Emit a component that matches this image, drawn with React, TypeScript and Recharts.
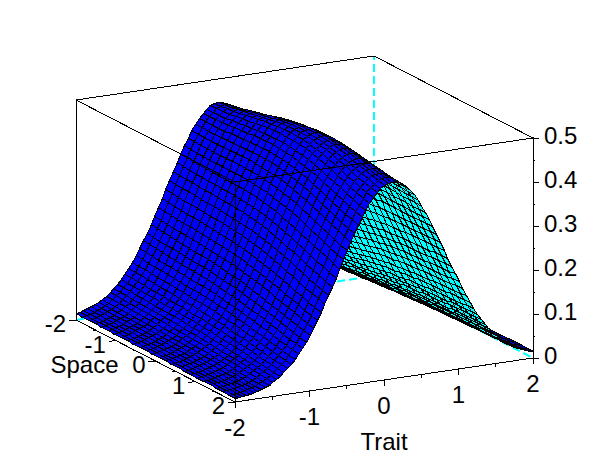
import { Scatter, ScatterChart, XAxis, YAxis } from "recharts";

/* Values. The mesh is 80 x 25 cells and is built from these
   lists: the height is spaceGain * traitProfile + space * traitDrift, where
   traitProfile is the mid section of the ridge and traitDrift is how much each
   trait column changes per unit of space (the ridge leans towards +trait). */
const traitSteps = [
  -2, -1.95, -1.9, -1.85, -1.8, -1.75, -1.7, -1.65, -1.6, -1.55, -1.5, -1.45, -1.4,
  -1.35, -1.3, -1.25, -1.2, -1.15, -1.1, -1.05, -1, -0.95, -0.9, -0.85, -0.8, -0.75,
  -0.7, -0.65, -0.6, -0.55, -0.5, -0.45, -0.4, -0.35, -0.3, -0.25, -0.2, -0.15, -0.1,
  -0.05, 0, 0.05, 0.1, 0.15, 0.2, 0.25, 0.3, 0.35, 0.4, 0.45, 0.5, 0.55, 0.6, 0.65,
  0.7, 0.75, 0.8, 0.85, 0.9, 0.95, 1, 1.05, 1.1, 1.15, 1.2, 1.25, 1.3, 1.35, 1.4,
  1.45, 1.5, 1.55, 1.6, 1.65, 1.7, 1.75, 1.8, 1.85, 1.9, 1.95, 2,
];
const spaceSteps = [
  -2, -1.84, -1.68, -1.52, -1.36, -1.2, -1.04, -0.88, -0.72, -0.56, -0.4, -0.24, -0.08,
  0.08, 0.24, 0.4, 0.56, 0.72, 0.88, 1.04, 1.2, 1.36, 1.52, 1.68, 1.84, 2,
];
const traitProfile = [
  0.012, 0.0135, 0.015, 0.0175, 0.02, 0.023, 0.026, 0.03, 0.035, 0.041, 0.047, 0.054,
  0.062, 0.071, 0.081, 0.092, 0.104, 0.117, 0.131, 0.146, 0.162, 0.179, 0.197, 0.215,
  0.234, 0.253, 0.272, 0.291, 0.31, 0.329, 0.347, 0.364, 0.38, 0.395, 0.409, 0.42,
  0.431, 0.439, 0.445, 0.448, 0.45, 0.449, 0.446, 0.441, 0.434, 0.425, 0.414, 0.401,
  0.387, 0.371, 0.354, 0.336, 0.318, 0.299, 0.28, 0.26, 0.241, 0.222, 0.204, 0.186,
  0.169, 0.153, 0.137, 0.123, 0.109, 0.097, 0.086, 0.075, 0.066, 0.058, 0.05, 0.043,
  0.037, 0.032, 0.028, 0.024, 0.021, 0.018, 0.016, 0.014, 0.013,
];
const traitDrift = [
  -0.0016, -0.0019, -0.0022, -0.0026, -0.0031, -0.0036, -0.0041, -0.0047, -0.0054,
  -0.0062, -0.007, -0.0078, -0.0087, -0.0096, -0.0106, -0.0116, -0.0126, -0.0136,
  -0.0146, -0.0155, -0.0164, -0.0172, -0.0179, -0.0185, -0.0189, -0.0192, -0.0193,
  -0.0192, -0.0189, -0.0184, -0.0177, -0.0167, -0.0156, -0.0142, -0.0127, -0.0109,
  -0.009, -0.007, -0.0049, -0.0027, -0.0005, 0.0018, 0.004, 0.0062, 0.0082, 0.0102,
  0.012, 0.0136, 0.0151, 0.0163, 0.0173, 0.0182, 0.0187, 0.0191, 0.0193, 0.0193,
  0.019, 0.0187, 0.0181, 0.0175, 0.0167, 0.0159, 0.0149, 0.014, 0.013, 0.012, 0.011,
  0.01, 0.0091, 0.0081, 0.0073, 0.0065, 0.0057, 0.005, 0.0044, 0.0038, 0.0033, 0.0028,
  0.0024, 0.002, 0.0017,
];
const spaceGain = [
  0.985, 0.991, 0.997, 1.004, 1.012, 1.02, 1.029, 1.038, 1.047, 1.055, 1.061, 1.066,
  1.069, 1.071, 1.071, 1.068, 1.063, 1.058, 1.05, 1.041, 1.031, 1.021, 1.011, 1.002,
  0.994, 0.987,
];

const traitTicks = [-2, -1, 0, 1, 2];
const traitMinorTicks = [-1.5, -0.5, 0.5, 1.5];
const spaceTicks = [-2, -1, 0, 1, 2];
const spaceMinorTicks = [-1.5, -0.5, 0.5, 1.5];
const heightTicks = [0, 0.05, 0.1, 0.15, 0.2, 0.25, 0.3, 0.35, 0.4, 0.45, 0.5];

const FONT = "'Liberation Sans', Arial, sans-serif";
const FONT_SIZE = 24;

// orthographic view of the box, y measured upwards so it goes through the y axis
function project(trait: number, space: number, height: number) {
  return {
    x: 235 + 74.5 * (trait + 2) + 39.75 * (space - 2),
    y: 460 - (402 - 11 * (trait + 2) + 20.5 * (space - 2) - 440 * height),
  };
}

function heightAt(i: number, j: number) {
  return spaceGain[i] * traitProfile[j] + spaceSteps[i] * traitDrift[j];
}

// far cells first: low space, high trait
const cells: any[] = [];
for (let i = 0; i < spaceSteps.length - 1; i++) {
  for (let j = traitSteps.length - 2; j >= 0; j--) {
    const corners = [
      project(traitSteps[j], spaceSteps[i], heightAt(i, j)),
      project(traitSteps[j + 1], spaceSteps[i], heightAt(i, j + 1)),
      project(traitSteps[j + 1], spaceSteps[i + 1], heightAt(i + 1, j + 1)),
      project(traitSteps[j], spaceSteps[i + 1], heightAt(i + 1, j)),
    ];
    const x = corners.reduce((s, c) => s + c.x, 0) / 4;
    const y = corners.reduce((s, c) => s + c.y, 0) / 4;
    let area = 0;
    corners.forEach((c, k) => {
      const n = corners[(k + 1) % 4];
      area += c.x * n.y - n.x * c.y;
    });
    cells.push({
      x,
      y,
      offsets: corners.map((c) => [c.x - x, c.y - y]),
      top: area < 0,
    });
  }
}

const edge = (points: number[][]) => points.map(([t, s, h]) => project(t, s, h));

const hiddenEdges = [
  edge([[-2, -2, 0], [2, -2, 0]]),
  edge([[2, -2, 0], [2, 2, 0]]),
  edge([[2, -2, 0], [2, -2, 0.5]]),
];
const visibleEdges = [
  edge([[-2, -2, 0.5], [2, -2, 0.5], [2, 2, 0.5]]),
  edge([[-2, -2, 0], [-2, -2, 0.5], [-2, 2, 0.5], [2, 2, 0.5], [2, 2, 0]]),
  edge([[-2, -2, 0], [-2, 2, 0], [2, 2, 0]]),
  edge([[-2, 2, 0], [-2, 2, 0.5]]),
];

const noDot = () => <g />;

const snap = (v: number) => Math.round(v) + 0.5;

const Cell = (props: any) => {
  const { cx, cy, payload } = props;
  const points = payload.offsets
    .map(([dx, dy]: number[]) => `${snap(cx + dx)},${snap(cy - dy)}`)
    .join(" ");
  return (
    <polygon
      points={points}
      fill={payload.top ? "#0000ff" : "#00ffff"}
      stroke="#000"
      strokeWidth={1}
      shapeRendering="crispEdges"
    />
  );
};

const label = (x: number, y: number, text: string, anchor: "middle" | "end") => (
  <text
    x={x}
    y={y}
    textAnchor={anchor}
    fontFamily={FONT}
    fontSize={FONT_SIZE}
    fill="#000"
  >
    {text}
  </text>
);

const TraitMark = ({ cx, cy, payload }: any) => (
  <g>
    <line x1={cx} y1={cy} x2={cx} y2={cy + (payload.major ? 6 : 3)} stroke="#000" shapeRendering="crispEdges" />
    {payload.major && label(cx, cy + 34, String(payload.value), "middle")}
    {payload.value === 0 && label(cx, cy + 70, "Trait", "middle")}
  </g>
);

const SpaceMark = ({ cx, cy, payload }: any) => (
  <g>
    <line x1={cx} y1={cy} x2={cx - (payload.major ? 7 : 3)} y2={cy + (payload.major ? 1 : 0)} stroke="#000" shapeRendering="crispEdges" />
    {payload.major && label(cx - 10, cy + 12, String(payload.value), "end")}
    {payload.value === 0 && label(cx - 37, cy + 12, "Space", "end")}
  </g>
);

const HeightTick = ({ x, y, payload }: any) => {
  const major = Math.round(payload.value * 100) % 10 === 0;
  return (
    <g>
      <line x1={x} y1={y} x2={x + (major ? 6 : 2)} y2={y} stroke="#000" shapeRendering="crispEdges" />
      {major && (
        <text x={x + 11} y={y + 6} fontFamily={FONT} fontSize={FONT_SIZE} fill="#000">
          {String(payload.value)}
        </text>
      )}
    </g>
  );
};

const traitMarks = [
  ...traitTicks.map((value) => ({ ...project(value, 2, 0), value, major: true })),
  ...traitMinorTicks.map((value) => ({ ...project(value, 2, 0), value, major: false })),
];
const spaceMarks = [
  ...spaceTicks.map((value) => ({ ...project(-2, value, 0), value, major: true })),
  ...spaceMinorTicks.map((value) => ({ ...project(-2, value, 0), value, major: false })),
];
const heightMarks = heightTicks.map((y) => ({ x: 533, y }));

export default function App() {
  return (
    <div style={{ position: "absolute", left: 0, top: 0, width: 610, height: 460, background: "#fff" }}>
      <ScatterChart width={610} height={460} margin={{ top: 0, right: 0, bottom: 0, left: 0 }}>
        <XAxis type="number" dataKey="x" domain={[0, 533]} hide />
        <YAxis type="number" dataKey="y" domain={[0, 460]} hide />
        <YAxis
          yAxisId="height"
          orientation="right"
          type="number"
          dataKey="y"
          width={77}
          domain={[-102 / 440, 358 / 440]}
          ticks={heightTicks}
          interval={0}
          axisLine={false}
          tickLine={false}
          tickSize={0}
          tickMargin={0}
          tick={HeightTick}
        />
        <Scatter yAxisId="height" data={heightMarks} shape={noDot} isAnimationActive={false} />
        {hiddenEdges.map((d, k) => (
          <Scatter
            key={`hidden-${k}`}
            data={d}
            line={{ stroke: "#00ffff", strokeWidth: 2, strokeDasharray: "8 4" }}
            shape={noDot}
            isAnimationActive={false}
          />
        ))}
        <Scatter data={cells} shape={Cell} isAnimationActive={false} />
        {visibleEdges.map((d, k) => (
          <Scatter
            key={`visible-${k}`}
            data={d}
            line={{ stroke: "#000", strokeWidth: 1, shapeRendering: "crispEdges" }}
            shape={noDot}
            isAnimationActive={false}
          />
        ))}
        <Scatter data={traitMarks} shape={TraitMark} isAnimationActive={false} />
        <Scatter data={spaceMarks} shape={SpaceMark} isAnimationActive={false} />
      </ScatterChart>
    </div>
  );
}
